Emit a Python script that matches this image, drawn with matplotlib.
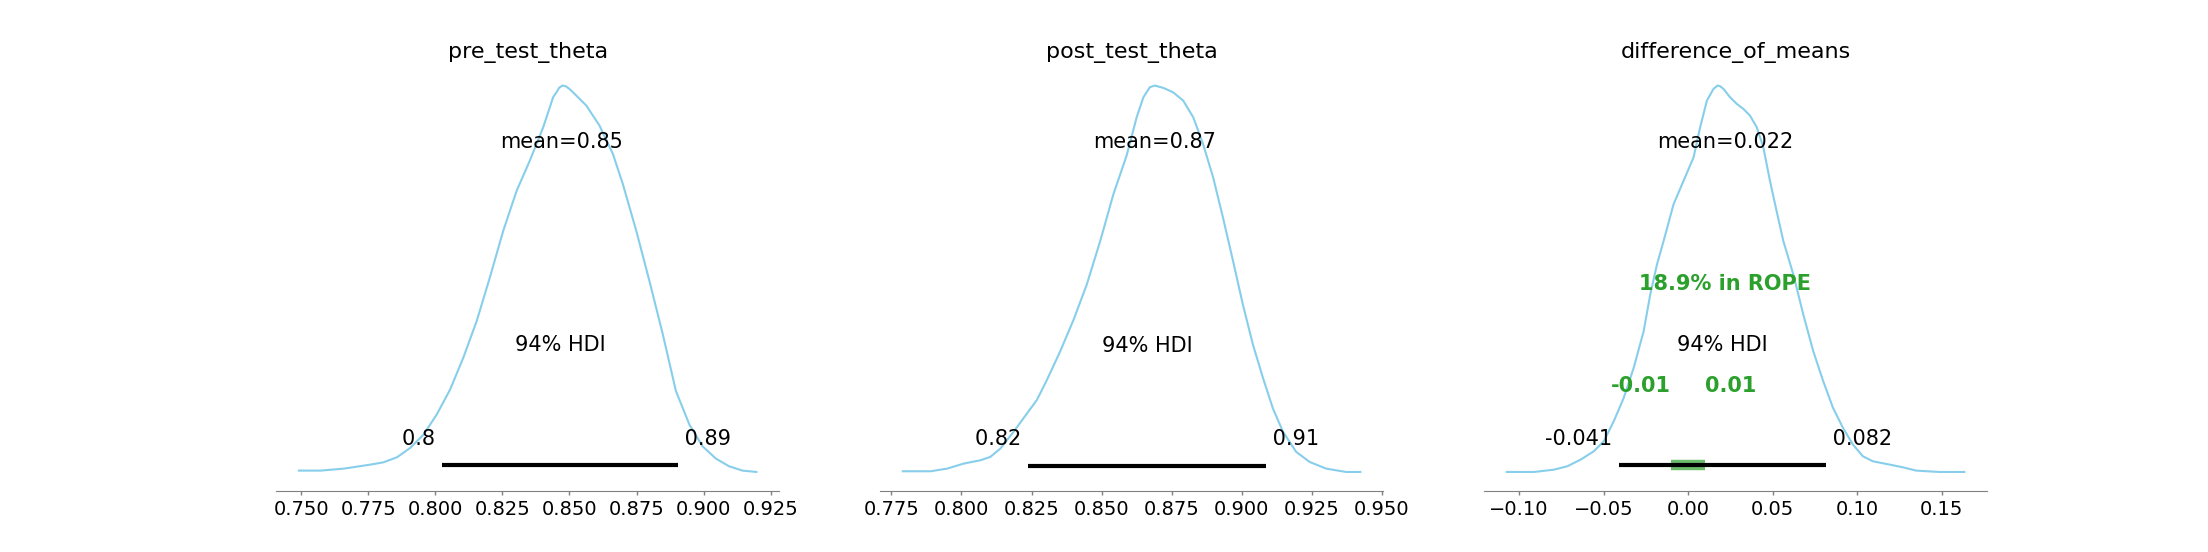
import matplotlib
matplotlib.use("Agg")
import matplotlib.pyplot as plt
import numpy as np

# Posterior summaries
var_names = ['pre_test_theta', 'post_test_theta', 'difference_of_means']
means = [0.847, 0.869, 0.022]
hdi_low = [0.8025, 0.8236, -0.0408]
hdi_high = [0.8905, 0.9088, 0.0818]
hdi_prob = 0.94
rope = [-0.01, 0.01]
rope_pct = 18.9

# KDE curves (x, relative density)
pre_x = [0.7491, 0.7572, 0.7658, 0.7758, 0.7807, 0.7857, 0.7906, 0.7956, 0.8005, 0.8055,
         0.8104, 0.8154, 0.8203, 0.8253, 0.8303, 0.8352, 0.8402, 0.8439, 0.8454, 0.8461,
         0.8474, 0.8486, 0.8498, 0.8513,
         0.8563, 0.8612, 0.8662, 0.8699, 0.8749, 0.8798, 0.8848, 0.8897, 0.8947, 0.8996,
         0.9046, 0.9095, 0.9145, 0.9197]
pre_y = [0.0069, 0.0069, 0.0120, 0.0224, 0.0284, 0.0414, 0.0655, 0.1000, 0.1518, 0.2165,
         0.2984, 0.3933, 0.5055, 0.6263, 0.7298, 0.8074, 0.8937, 0.9713, 0.9868, 0.9955,
         1.0015, 0.9998, 0.9938, 0.9842,
         0.9497, 0.8980, 0.8247, 0.7470, 0.6263, 0.4969, 0.3588, 0.2122, 0.1259, 0.0698,
         0.0379, 0.0181, 0.0069, 0.0034]

post_x = [0.7791, 0.7890, 0.7949, 0.8008, 0.8068, 0.8103, 0.8139, 0.8186, 0.8234, 0.8269,
          0.8305, 0.8352, 0.8400, 0.8447, 0.8495, 0.8542, 0.8589, 0.8625, 0.8649, 0.8672,
          0.8690, 0.8720, 0.8755, 0.8791, 0.8827, 0.8862, 0.8898, 0.8933, 0.8969, 0.9004,
          0.9040, 0.9076, 0.9111, 0.9147, 0.9194, 0.9242, 0.9301, 0.9372, 0.9423]
post_y = [0.0069, 0.0069, 0.0137, 0.0267, 0.0353, 0.0439, 0.0655, 0.1086, 0.1561, 0.1906,
          0.2424, 0.3157, 0.3976, 0.4882, 0.6004, 0.7211, 0.8204, 0.9195, 0.9713, 0.9972,
          1.0015, 0.9955, 0.9842, 0.9627, 0.9195, 0.8505, 0.7643, 0.6608, 0.5486, 0.4365,
          0.3329, 0.2467, 0.1690, 0.1086, 0.0569, 0.0310, 0.0137, 0.0051, 0.0051]

diff_x = [-0.1073, -0.0911, -0.0793, -0.0715, -0.0636, -0.0558, -0.0499, -0.0440, -0.0381,
          -0.0322, -0.0263, -0.0224, -0.0184, -0.0145, -0.0086, -0.0027, 0.0032, 0.0071,
          0.0111, 0.0150, 0.0174, 0.0189, 0.0209, 0.0248, 0.0288, 0.0327, 0.0366, 0.0406, 0.0445,
          0.0484, 0.0523, 0.0563, 0.0622, 0.0681, 0.0740, 0.0799, 0.0857, 0.0916, 0.0975,
          0.1034, 0.1093, 0.1192, 0.1270, 0.1349, 0.1486, 0.1634]
diff_y = [0.0034, 0.0034, 0.0094, 0.0181, 0.0353, 0.0569, 0.0828, 0.1345, 0.1949,
          0.2725, 0.3674, 0.4623, 0.5400, 0.6004, 0.6953, 0.7556, 0.8160, 0.8937,
          0.9627, 0.9929, 1.0015, 0.9998, 0.9929, 0.9713, 0.9541, 0.9411, 0.9239, 0.8937, 0.8419,
          0.7556, 0.6780, 0.6004, 0.5141, 0.4106, 0.3157, 0.2380, 0.1690, 0.1173, 0.0741,
          0.0439, 0.0310, 0.0224, 0.0155, 0.0069, 0.0034, 0.0034]

curves_x = [pre_x, post_x, diff_x]
curves_y = [pre_y, post_y, diff_y]

labelsize = 15
titlesize = 16
ticksize = 14
lw = 1.5

fig, axes = plt.subplots(1, 3, figsize=(22.08, 5.52), dpi=100)

for i, ax in enumerate(axes):
    ax.plot(curves_x[i], curves_y[i], color='skyblue', lw=lw)
    plot_height = ax.get_ylim()[1]

    # hdi
    lo, hi = hdi_low[i], hdi_high[i]
    ax.plot([lo, hi], [plot_height * 0.02, plot_height * 0.02], lw=lw * 2, color='k',
            solid_capstyle='butt')
    ax.text(lo, plot_height * 0.07, '{:.2g} '.format(lo), size=labelsize, ha='right')
    ax.text(hi, plot_height * 0.07, ' {:.2g}'.format(hi), size=labelsize, ha='left')
    ax.text((lo + hi) / 2, plot_height * 0.3, '{:.0f}% HDI'.format(hdi_prob * 100),
            size=labelsize, ha='center')

    # point estimate
    ax.text(means[i], plot_height * 0.8, 'mean={:.2g}'.format(means[i]), size=labelsize, ha='center')

    # rope only for the difference
    if i == 2:
        ax.plot(rope, [plot_height * 0.02, plot_height * 0.02], lw=lw * 5, color='C2',
                solid_capstyle='butt', zorder=0, alpha=0.7)
        ax.text(rope[0], plot_height * 0.2, '{}'.format(rope[0]), weight='semibold',
                ha='right', size=labelsize, color='C2')
        ax.text(rope[1], plot_height * 0.2, '{}'.format(rope[1]), weight='semibold',
                ha='left', size=labelsize, color='C2')
        ax.text(means[i], plot_height * 0.45, '{}% in ROPE'.format(rope_pct), weight='semibold',
                ha='center', size=labelsize, color='C2')

    ax.set_title(var_names[i], fontsize=titlesize, wrap=True)
    ax.yaxis.set_ticks([])
    for side in ['top', 'right', 'left']:
        ax.spines[side].set_visible(False)
    ax.spines['bottom'].set_color('0.5')
    ax.xaxis.set_ticks_position('bottom')
    ax.tick_params(axis='x', direction='out', width=1, length=3, color='0.5', labelsize=ticksize)

plt.savefig('out.png', dpi=100)
